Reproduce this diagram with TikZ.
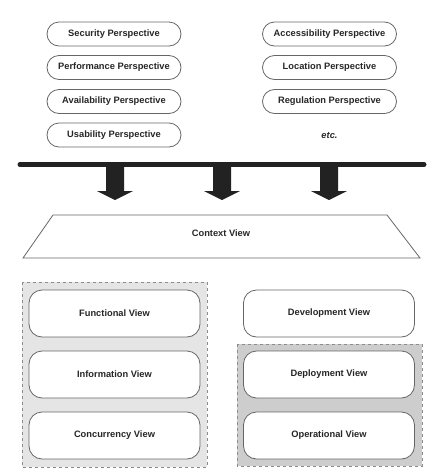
\documentclass[tikz,border=0pt]{standalone}
\usepackage{fontspec}
\setmainfont{Liberation Sans}
\definecolor{lightgrp}{HTML}{E5E5E5}
\definecolor{darkgrp}{HTML}{CDCDCD}
\definecolor{ink}{HTML}{222222}
\begin{document}
\begin{tikzpicture}[x=1pt,y=-1pt,
  lbl/.style={font=\bfseries\fontsize{9.3}{11}\selectfont, text=black!85},
  pill/.style={lbl, draw=black!60, line width=0.8pt, rounded corners=12pt, minimum width=134pt, minimum height=24pt, inner sep=0pt},
  viewbox/.style={lbl, draw=black!60, line width=0.8pt, fill=white, rounded corners=13pt, minimum width=171pt, minimum height=47pt, inner sep=0pt},
  grp/.style={draw=black!45, dashed, line width=0.7pt},
  blockarrow/.style={fill=ink, draw=none}
]
\useasboundingbox (0,0) rectangle (429,472);

% perspectives
\node[pill] (sec) at (114,34) {Security Perspective};
\node[pill] (perf) at (114,67.5) {Performance Perspective};
\node[pill] (avail) at (114,101.5) {Availability Perspective};
\node[pill] (usab) at (114,135) {Usability Perspective};
\node[pill] (acc) at (329.5,34) {Accessibility Perspective};
\node[pill] (loc) at (329.5,67.5) {Location Perspective};
\node[pill] (reg) at (329.5,101.5) {Regulation Perspective};
\node[lbl, font=\bfseries\itshape\fontsize{9.3}{11}\selectfont] (etc) at (329.5,136) {etc.};

% bar
\coordinate (barL) at (20,164.5);
\coordinate (barR) at (424,164.5);
\draw[ink, line width=5pt, line cap=round] (barL) -- (barR);

% block arrows
\foreach \cx in {115,222,329}{
  \fill[blockarrow] (\cx-9,166) -- (\cx+9,166) -- (\cx+9,191) -- (\cx+18,191) -- (\cx,200) -- (\cx-18,191) -- (\cx-9,191) -- cycle;
}

% context view
\draw[black!60, line width=0.8pt] (53,215) -- (387,215) -- (420,258) -- (23,258) -- cycle;
\node[lbl] (ctx) at (221,233) {Context View};

% groups
\filldraw[grp, fill=lightgrp] (22,282) rectangle (207,467);
\filldraw[grp, fill=darkgrp] (237,344) rectangle (422,466);

% views
\node[viewbox] (func) at (114.5,313.5) {Functional View};
\node[viewbox] (info) at (114.5,374.5) {Information View};
\node[viewbox] (conc) at (114.5,435.5) {Concurrency View};
\node[viewbox] (dev) at (329,313.5) {Development View};
\node[viewbox] (depl) at (329,374.5) {Deployment View};
\node[viewbox] (oper) at (329,435.5) {Operational View};
\end{tikzpicture}
\end{document}
